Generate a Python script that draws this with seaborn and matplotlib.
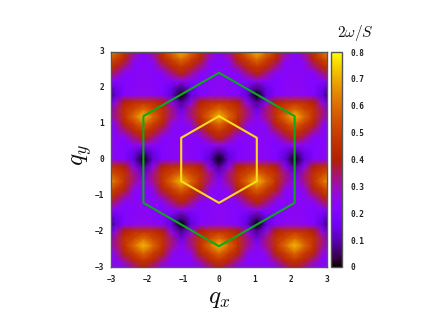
import numpy as np
import pandas as pd
import matplotlib
matplotlib.use("Agg")
import matplotlib.pyplot as plt
from matplotlib.transforms import Affine2D
import seaborn as sns

# 2omega/S in hundredths; rows run from qy=3 down to qy=-3
qx_grid = [round(-3.15 + 0.2625 * i, 4) for i in range(25)]
qy_grid = [round(3.0 - 0.2 * i, 1) for i in range(31)]
energy_rows = [
    [72,60,46,33,21,33,46,60,72,60,46,33,21,33,46,60,72,60,46,33,21,33,46,60,72],
    [60,50,42,26,22,26,42,50,60,50,42,26,22,26,42,50,60,50,42,26,22,26,42,50,60],
    [48,43,33,22,23,22,33,43,48,43,33,22,23,22,33,43,48,43,33,22,23,22,33,43,48],
    [41,33,22,23,24,23,22,33,41,33,22,23,24,23,22,33,41,33,22,23,24,23,22,33,41],
    [25,22,21,23,24,23,21,22,25,22,21,23,24,23,21,22,25,22,21,23,24,23,21,22,25],
    [7,15,21,23,24,23,21,15,7,15,21,23,24,23,21,15,7,15,21,23,24,23,21,15,7],
    [0,13,21,24,25,24,21,13,0,13,21,24,25,24,21,13,0,13,21,24,25,24,21,13,0],
    [8,24,40,45,46,45,40,24,8,24,40,45,46,45,40,24,8,24,40,45,46,45,40,24,8],
    [15,33,46,52,60,52,46,33,15,33,46,52,60,52,46,33,15,33,46,52,60,52,46,33,15],
    [21,33,46,60,72,60,46,33,21,33,46,60,72,60,46,33,21,33,46,60,72,60,46,33,21],
    [22,26,42,50,60,50,42,26,22,26,42,50,60,50,42,26,22,26,42,50,60,50,42,26,22],
    [23,22,33,43,48,43,33,22,23,22,33,43,48,43,33,22,23,22,33,43,48,43,33,22,23],
    [24,23,22,33,41,33,22,23,24,23,22,33,41,33,22,23,24,23,22,33,41,33,22,23,24],
    [24,23,21,22,25,22,21,23,24,23,21,22,25,22,21,23,24,23,21,22,25,22,21,23,24],
    [24,23,21,15,7,15,21,23,24,23,21,15,7,15,21,23,24,23,21,15,7,15,21,23,24],
    [25,24,21,13,0,13,21,24,25,24,21,13,0,13,21,24,25,24,21,13,0,13,21,24,25],
    [46,45,40,24,8,24,40,45,46,45,40,24,8,24,40,45,46,45,40,24,8,24,40,45,46],
    [60,52,46,33,15,33,46,52,60,52,46,33,15,33,46,52,60,52,46,33,15,33,46,52,60],
    [72,60,46,33,21,33,46,60,72,60,46,33,21,33,46,60,72,60,46,33,21,33,46,60,72],
    [60,50,42,26,22,26,42,50,60,50,42,26,22,26,42,50,60,50,42,26,22,26,42,50,60],
    [48,43,33,22,23,22,33,43,48,43,33,22,23,22,33,43,48,43,33,22,23,22,33,43,48],
    [41,33,22,23,24,23,22,33,41,33,22,23,24,23,22,33,41,33,22,23,24,23,22,33,41],
    [25,22,21,23,24,23,21,22,25,22,21,23,24,23,21,22,25,22,21,23,24,23,21,22,25],
    [7,15,21,23,24,23,21,15,7,15,21,23,24,23,21,15,7,15,21,23,24,23,21,15,7],
    [0,13,21,24,25,24,21,13,0,13,21,24,25,24,21,13,0,13,21,24,25,24,21,13,0],
    [8,24,40,45,46,45,40,24,8,24,40,45,46,45,40,24,8,24,40,45,46,45,40,24,8],
    [15,33,46,52,60,52,46,33,15,33,46,52,60,52,46,33,15,33,46,52,60,52,46,33,15],
    [21,33,46,60,72,60,46,33,21,33,46,60,72,60,46,33,21,33,46,60,72,60,46,33,21],
    [22,26,42,50,60,50,42,26,22,26,42,50,60,50,42,26,22,26,42,50,60,50,42,26,22],
    [23,22,33,43,48,43,33,22,23,22,33,43,48,43,33,22,23,22,33,43,48,43,33,22,23],
    [24,23,22,33,41,33,22,23,24,23,22,33,41,33,22,23,24,23,22,33,41,33,22,23,24],
]
green_qx = [0, 2.1, 2.1, 0, -2.1, -2.1, 0]
green_qy = [2.42, 1.21, -1.21, -2.42, -1.21, 1.21, 2.42]
yellow_qx = [0, 1.05, 1.05, 0, -1.05, -1.05, 0]
yellow_qy = [1.21, 0.605, -0.605, -1.21, -0.605, 0.605, 1.21]
axis_ticks = [-3, -2, -1, 0, 1, 2, 3]
cbar_ticks = [0, 0.1, 0.2, 0.3, 0.4, 0.5, 0.6, 0.7, 0.8]
cbar_labels = ["0", "0.1", "0.2", "0.3", "0.4", "0.5", "0.6", "0.7", "0.8"]

sns.set_style("white")
plt.rcParams["mathtext.fontset"] = "cm"
W, H = 436, 327
GREY = "#555555"
TICK_FONT = dict(family="DejaVu Sans Mono", fontweight="bold", fontsize=5.6)

fig = plt.figure(figsize=(W / 100, H / 100), dpi=100)
ax = fig.add_axes([111 / W, 1 - 267 / H, 216 / W, 215 / H])
cax = fig.add_axes([331 / W, 1 - 267 / H, 11 / W, 215 / H])

frame = pd.DataFrame(energy_rows, index=qy_grid, columns=qx_grid) / 100
frame = frame.iloc[::-1]
sns.heatmap(frame, ax=ax, cbar_ax=cax, cmap="gnuplot", vmin=0, vmax=0.8,
            shading="gouraud", rasterized=False,
            cbar_kws=dict(ticks=cbar_ticks))

# place the mesh in reciprocal-space units
mesh = ax.collections[0]
step_x = qx_grid[1] - qx_grid[0]
step_y = 0.2
mesh.set_transform(Affine2D().scale(step_x, step_y).translate(qx_grid[0], qy_grid[-1]) + ax.transData)
ax.set_xlim(-3, 3)
ax.set_ylim(-3, 3)
ax.set_xlabel("")
ax.set_ylabel("")

sns.lineplot(x=green_qx, y=green_qy, sort=False, estimator=None, ax=ax, color="#0ca81e", linewidth=1.5)
sns.lineplot(x=yellow_qx, y=yellow_qy, sort=False, estimator=None, ax=ax, color="#fadc1e", linewidth=1.5)

ax.set_xticks(axis_ticks, [str(t).replace("-", "\u2212") for t in axis_ticks], rotation=0, **TICK_FONT)
ax.set_yticks(axis_ticks, [str(t).replace("-", "\u2212") for t in axis_ticks], rotation=0, **TICK_FONT)
ax.tick_params(axis="both", direction="in", length=3, width=0.7, color="#222222",
               top=True, right=True, bottom=True, left=True, labelcolor="#222222")
ax.tick_params(axis="x", pad=5.5)
ax.tick_params(axis="y", pad=5)
for s in ax.spines.values():
    s.set_visible(True)
    s.set_color(GREY)
    s.set_linewidth(1.0)

cb = ax.collections[0].colorbar
cb.set_ticks(cbar_ticks, labels=cbar_labels)
for lab in cax.get_yticklabels():
    lab.set(family="DejaVu Sans Mono", fontweight="bold", fontsize=5.6, color="#222222")
cax.tick_params(axis="y", direction="in", length=2.5, width=0.7, color="#222222", right=True, pad=6)
cb.outline.set_visible(True)
cb.outline.set_edgecolor(GREY)
cb.outline.set_linewidth(1.0)

fig.text(219 / W, 1 - 298 / H, r"$q_x$", fontsize=18, ha="center", va="center", color="#111111")
fig.text(82 / W, 1 - 155 / H, r"$q_y$", fontsize=18, ha="center", va="center", rotation=90, color="#111111")
fig.text(355 / W, 1 - 33 / H, r"$2\omega/S$", fontsize=11, ha="center", va="center", color="#111111")

fig.savefig("out.png", dpi=100)
